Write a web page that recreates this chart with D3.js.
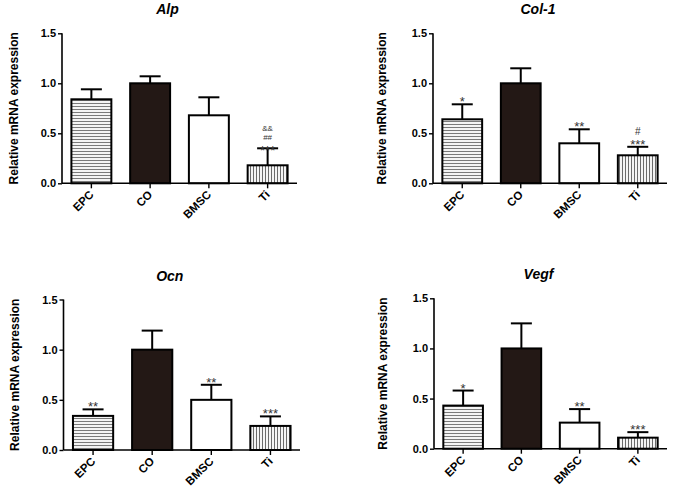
<!DOCTYPE html>
<html>
<head>
<meta charset="utf-8">
<script src="https://cdn.jsdelivr.net/npm/d3@7"></script>
<style>
  body { margin: 0; background: #fff; }
  svg { display: block; font-family: Arial, "Liberation Sans", sans-serif; }
</style>
</head>
<body>
<svg id="chart" width="675" height="493"></svg>
<script>
// groups on the x axis, same for every gene
var groups = ["EPC", "CO", "BMSC", "Ti"];
var genes = ["Alp", "Col-1", "Ocn", "Vegf"];
var yTicks = [0, 0.5, 1.0, 1.5];

// means and upper error (SEM)
var alpMean  = [0.84, 1.00, 0.68, 0.18];
var alpErr   = [0.10, 0.07, 0.18, 0.17];
var col1Mean = [0.64, 1.00, 0.40, 0.28];
var col1Err  = [0.15, 0.15, 0.14, 0.085];
var ocnMean  = [0.34, 1.00, 0.50, 0.24];
var ocnErr   = [0.065, 0.19, 0.15, 0.095];
var vegfMean = [0.43, 1.00, 0.26, 0.11];
var vegfErr  = [0.15, 0.25, 0.135, 0.055];

// significance marks, lines listed top to bottom
var alpSig  = ["", "", "", "&&\n##\n***"];
var col1Sig = ["*", "", "**", "#\n***"];
var ocnSig  = ["**", "", "**", "***"];
var vegfSig = ["*", "", "**", "***"];

var means = [alpMean, col1Mean, ocnMean, vegfMean];
var errs = [alpErr, col1Err, ocnErr, vegfErr];
var sigs = [alpSig, col1Sig, ocnSig, vegfSig];

// where each panel sits on the page
var panels = [
  {x0: 62,   x1: 297, yTop: 33.3,  yBot: 183.3, labelX: 18},
  {x0: 433,  x1: 667, yTop: 33.3,  yBot: 183.3, labelX: 386},
  {x0: 63.5, x1: 300, yTop: 299.5, yBot: 450,   labelX: 19},
  {x0: 434,  x1: 667, yTop: 298.3, yBot: 448.7, labelX: 387}
];

var svg = d3.select("#chart");
var defs = svg.append("defs");

//horizontal stripes for EPC
var hp = defs.append("pattern").attr("id", "hstripe")
  .attr("patternUnits", "userSpaceOnUse").attr("width", 6).attr("height", 3);
hp.append("rect").attr("width", 6).attr("height", 3).attr("fill", "#f4f4f4");
hp.append("line").attr("x1", 0).attr("x2", 6).attr("y1", 1.5).attr("y2", 1.5)
  .attr("stroke", "#7a7a7a").attr("stroke-width", 1);

//vertical stripes for Ti
var vp = defs.append("pattern").attr("id", "vstripe")
  .attr("patternUnits", "userSpaceOnUse").attr("width", 3).attr("height", 6);
vp.append("rect").attr("width", 3).attr("height", 6).attr("fill", "#f4f4f4");
vp.append("line").attr("y1", 0).attr("y2", 6).attr("x1", 1.5).attr("x2", 1.5)
  .attr("stroke", "#6a6a6a").attr("stroke-width", 1);

var fills = ["url(#hstripe)", "#231815", "#ffffff", "url(#vstripe)"];

panels.forEach(function(p, i) {
  var rows = groups.map(function(g, k) {
    return {group: g, mean: means[i][k], err: errs[i][k], sig: sigs[i][k], fill: fills[k]};
  });

  var x = d3.scaleBand().domain(groups).range([p.x0, p.x1])
    .paddingInner(0.32).paddingOuter(0.16);
  var y = d3.scaleLinear().domain([0, 1.5]).range([p.yBot, p.yTop]);

  var g = svg.append("g");

  // bars
  g.selectAll("rect.bar").data(rows).enter().append("rect")
    .attr("class", "bar")
    .attr("x", function(d) { return x(d.group); })
    .attr("y", function(d) { return y(d.mean); })
    .attr("width", x.bandwidth())
    .attr("height", function(d) { return y(0) - y(d.mean); })
    .attr("fill", function(d) { return d.fill; })
    .attr("stroke", "#000").attr("stroke-width", 2);

  // error bars, upper half only
  var eb = g.selectAll("g.err").data(rows).enter().append("g").attr("class", "err");
  eb.append("line")
    .attr("x1", function(d) { return x(d.group) + x.bandwidth() / 2; })
    .attr("x2", function(d) { return x(d.group) + x.bandwidth() / 2; })
    .attr("y1", function(d) { return y(d.mean); })
    .attr("y2", function(d) { return y(d.mean + d.err); })
    .attr("stroke", "#000").attr("stroke-width", 2);
  eb.append("line")
    .attr("x1", function(d) { return x(d.group) + x.bandwidth() / 2 - 10.5; })
    .attr("x2", function(d) { return x(d.group) + x.bandwidth() / 2 + 10.5; })
    .attr("y1", function(d) { return y(d.mean + d.err); })
    .attr("y2", function(d) { return y(d.mean + d.err); })
    .attr("stroke", "#000").attr("stroke-width", 2);

  // significance marks stacked above the cap
  rows.forEach(function(d) {
    if (!d.sig) return;
    var lines = d.sig.split("\n").reverse();
    var tight = lines.length > 2;
    var cx = x(d.group) + x.bandwidth() / 2;
    var base = y(d.mean + d.err) + (tight ? 7 : 2);
    lines.forEach(function(s, j) {
      var star = s.indexOf("*") >= 0;
      if (j == 1) base -= tight ? 15.5 : 14;
      if (j == 2) base -= 9;
      g.append("text")
        .attr("x", cx).attr("y", base)
        .attr("text-anchor", "middle")
        .attr("font-size", star ? 13 : (tight ? 8 : 10))
        .attr("fill", "#333")
        .text(s);
    });
  });

  // y axis
  var ya = g.append("g").attr("transform", "translate(" + p.x0 + ",0)")
    .call(d3.axisLeft(y).tickValues(yTicks).tickFormat(d3.format(".1f")).tickSize(4).tickPadding(2));
  ya.select(".domain").attr("stroke-width", 1.6).attr("d", "M0," + y(1.5) + "V" + y(0));
  ya.selectAll(".tick line").attr("stroke-width", 1.4);
  ya.selectAll("text").attr("font-size", 11).attr("font-weight", "bold").attr("fill", "#000");

  // x axis
  var xa = g.append("g").attr("transform", "translate(0," + p.yBot + ")")
    .call(d3.axisBottom(x).tickSize(5).tickFormat(""));
  xa.select(".domain").attr("stroke-width", 1.6).attr("d", "M" + p.x0 + ",0H" + p.x1);
  xa.selectAll(".tick line").attr("stroke-width", 1.4);

  g.selectAll("text.xlab").data(groups).enter().append("text")
    .attr("class", "xlab")
    .attr("transform", function(d) {
      return "translate(" + (x(d) + x.bandwidth() / 2 + 3) + "," + (p.yBot + 12) + ") rotate(-45)";
    })
    .attr("text-anchor", "end")
    .attr("font-size", 11.5).attr("font-weight", "bold")
    .text(function(d) { return d; });

  // y label
  g.append("text")
    .attr("transform", "translate(" + p.labelX + "," + ((p.yTop + p.yBot) / 2) + ") rotate(-90)")
    .attr("text-anchor", "middle")
    .attr("font-size", 12).attr("font-weight", "bold")
    .text("Relative mRNA expression");

  // gene title
  g.append("text")
    .attr("x", (p.x0 + p.x1) / 2 - 12).attr("y", p.yTop - 19)
    .attr("text-anchor", "middle")
    .attr("font-size", 14).attr("font-weight", "bold").attr("font-style", "italic")
    .text(genes[i]);
});
</script>
</body>
</html>
